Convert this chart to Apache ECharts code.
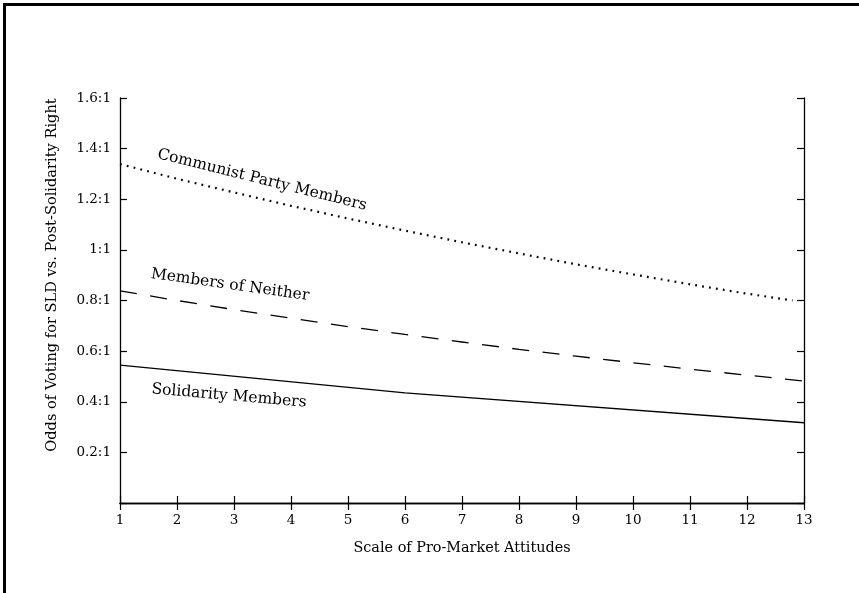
<!DOCTYPE html>
<html>
<head>
<meta charset="utf-8">
<script src="https://cdn.jsdelivr.net/npm/echarts@6/dist/echarts.min.js"></script>
<style>
  html, body { margin: 0; padding: 0; background: #fff; }
  #chart { width: 859px; height: 593px; }
</style>
</head>
<body>
<div id="chart"></div>
<script>
// values
const xTicks = [1, 2, 3, 4, 5, 6, 7, 8, 9, 10, 11, 12, 13];
const yTickLabels = { 0.2: '0.2:1', 0.4: '0.4:1', 0.6: '0.6:1', 0.8: '0.8:1', 1: '1:1', 1.2: '1.2:1', 1.4: '1.4:1', 1.6: '1.6:1' };

const communistX = [1, 2, 3, 4, 5, 6, 7, 8, 9, 10, 11, 12, 12.8];
const communist = [1.339, 1.281, 1.227, 1.174, 1.124, 1.076, 1.030, 0.986, 0.943, 0.903, 0.864, 0.827, 0.800];

const neitherX = [1, 2, 3, 4, 5, 6, 7, 8, 9, 10, 11, 12, 13];
const neither = [0.838, 0.800, 0.764, 0.730, 0.697, 0.666, 0.636, 0.607, 0.580, 0.554, 0.529, 0.505, 0.482];

const solidarityX = [1, 6, 13];
const solidarity = [0.545, 0.435, 0.317];

const FONT = 'DejaVu Serif';
const zip = (xs, ys) => xs.map((x, i) => [x, ys[i]]);

const chart = echarts.init(document.getElementById('chart'));

const axisLine = { show: true, lineStyle: { color: '#000', width: 1.3 } };
const axisTick = { show: true, inside: true, length: 7, lineStyle: { color: '#000', width: 1.2 } };

chart.setOption({
  animation: false,
  backgroundColor: '#fff',
  grid: { left: 120, right: 55, top: 98, bottom: 90 },
  xAxis: [
    {
      type: 'value', min: 1, max: 13, interval: 1,
      name: 'Scale of Pro-Market Attitudes', nameLocation: 'middle', nameGap: 38,
      nameTextStyle: { fontFamily: FONT, fontSize: 14.4, color: '#000' },
      axisLine, axisTick, splitLine: { show: false },
      axisLabel: { fontFamily: FONT, fontSize: 13.5, color: '#000', margin: 10 }
    },
    {
      type: 'value', min: 1, max: 13, interval: 1, position: 'top',
      axisLine, axisTick, splitLine: { show: false }, axisLabel: { show: false }
    }
  ],
  yAxis: [
    {
      type: 'value', min: 0, max: 1.6, interval: 0.2,
      axisLine, axisTick, splitLine: { show: false },
      axisLabel: {
        fontFamily: FONT, fontSize: 13.5, color: '#000', margin: 9,
        formatter: v => yTickLabels[Math.round(v * 10) / 10] || ''
      }
    },
    {
      type: 'value', min: 0, max: 1.6, interval: 0.2, position: 'right',
      axisLine, axisTick, splitLine: { show: false }, axisLabel: { show: false }
    }
  ],
  series: [
    {
      name: 'Communist Party Members', type: 'line', data: zip(communistX, communist),
      showSymbol: false, symbol: 'none',
      lineStyle: { color: '#000', width: 2.2, type: [1.8, 5.2], cap: 'butt' }
    },
    {
      name: 'Members of Neither', type: 'line', data: zip(neitherX, neither),
      showSymbol: false, symbol: 'none',
      lineStyle: { color: '#000', width: 1.3, type: [17, 13.5] }
    },
    {
      name: 'Solidarity Members', type: 'line', data: zip(solidarityX, solidarity),
      showSymbol: false, symbol: 'none',
      lineStyle: { color: '#000', width: 1.3, type: 'solid' }
    }
  ],
  graphic: [
    {
      type: 'rect', silent: true,
      shape: { x: 4.5, y: 4.5, width: 1200, height: 1200 },
      style: { fill: 'none', stroke: '#000', lineWidth: 3 }
    },
    {
      type: 'text', x: 52, y: 275, rotation: Math.PI / 2,
      style: { text: 'Odds of Voting for SLD vs. Post-Solidarity Right', font: '14.6px "DejaVu Serif"', fill: '#000', align: 'center', verticalAlign: 'middle' }
    },
    {
      type: 'text', x: 262, y: 180, rotation: -14 * Math.PI / 180,
      style: { text: 'Communist Party Members', font: '15.5px "DejaVu Serif"', fill: '#000', align: 'center', verticalAlign: 'middle' }
    },
    {
      type: 'text', x: 230, y: 285, rotation: -8 * Math.PI / 180,
      style: { text: 'Members of Neither', font: '15.5px "DejaVu Serif"', fill: '#000', align: 'center', verticalAlign: 'middle' }
    },
    {
      type: 'text', x: 229, y: 396, rotation: -5 * Math.PI / 180,
      style: { text: 'Solidarity Members', font: '15.5px "DejaVu Serif"', fill: '#000', align: 'center', verticalAlign: 'middle' }
    }
  ]
});
</script>
</body>
</html>
